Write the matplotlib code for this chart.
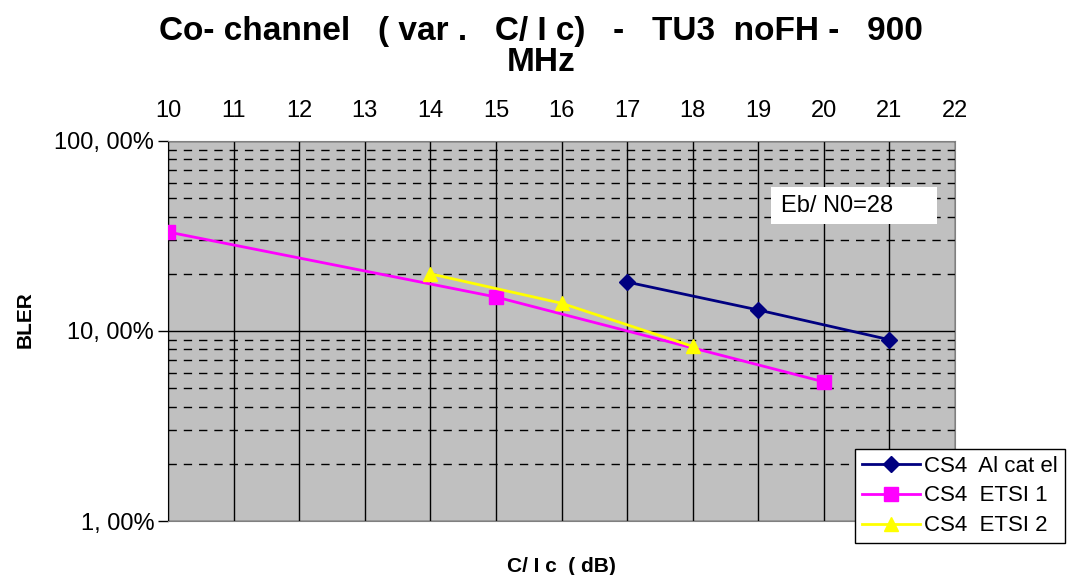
import numpy as np
import matplotlib
matplotlib.use("Agg")
import matplotlib.pyplot as plt
from matplotlib.patches import Rectangle
from matplotlib.ticker import FixedLocator, LogLocator, NullFormatter

plt.rcParams['font.family'] = ['Liberation Sans', 'DejaVu Sans']

# data (BLER in %)
alcatel_x = [17, 19, 21]
alcatel_y = [18.1, 12.9, 9.0]
etsi1_x = [10, 15, 20]
etsi1_y = [33.2, 15.1, 5.4]
etsi2_x = [14, 16, 18]
etsi2_y = [20.0, 14.0, 8.3]
x_ticks = list(range(10, 23))
y_ticks = [1, 10, 100]
y_tick_labels = ['1, 00%', '10, 00%', '100, 00%']

fig = plt.figure(figsize=(10.82, 5.75), dpi=100)
ax = fig.add_axes([0.1553, 0.0939, 0.7273, 0.6609])
ax.set_facecolor('#c0c0c0')

ax.plot(alcatel_x, alcatel_y, color='#000080', marker='D', markersize=8,
        linewidth=2, label='CS4  Al cat el', zorder=5)
ax.plot(etsi1_x, etsi1_y, color='#ff00ff', marker='s', markersize=10,
        linewidth=2, label='CS4  ETSI 1', zorder=5)
ax.plot(etsi2_x, etsi2_y, color='#ffff00', marker='^', markersize=10,
        linewidth=2, label='CS4  ETSI 2', zorder=5)

ax.set_yscale('log')
ax.set_xlim(10, 22)
ax.set_ylim(1, 100)

ax.xaxis.tick_top()
ax.set_xticks(x_ticks)
ax.tick_params(axis='x', which='both', length=0, labelsize=17, pad=14)
ax.yaxis.set_major_locator(FixedLocator(y_ticks))
ax.set_yticklabels(y_tick_labels)
ax.yaxis.set_minor_locator(LogLocator(base=10, subs=np.arange(2, 10)))
ax.yaxis.set_minor_formatter(NullFormatter())
ax.tick_params(axis='y', which='major', length=7, width=1, labelsize=17, pad=3)
ax.tick_params(axis='y', which='minor', length=0)

ax.grid(True, axis='x', which='major', color='black', linewidth=1, linestyle='-')
ax.grid(True, axis='y', which='major', color='black', linewidth=1, linestyle='-')
ax.grid(True, axis='y', which='minor', color='black', linewidth=1,
        linestyle=(0, (6, 5)))
ax.set_axisbelow(True)

for side in ['top', 'right', 'bottom']:
    ax.spines[side].set_color('#808080')
ax.spines['left'].set_color('black')

ax.set_xlabel('C/ I c  ( dB)', fontsize=15, fontweight='bold', labelpad=26)
ax.xaxis.set_label_position('bottom')
ax.set_ylabel('BLER', fontsize=15, fontweight='bold')
ax.yaxis.set_label_coords(-0.17, 0.53)

fig.text(0.5, 0.972, 'Co- channel   ( var .   C/ I c)   -   TU3  noFH -   900\nMHz',
         ha='center', va='top', fontsize=24, fontweight='bold', linespacing=1.0)

# white note box inside the plot area
fig.patches.append(Rectangle((0.7126, 0.6104), 0.1534, 0.0643,
                             transform=fig.transFigure, facecolor='white',
                             edgecolor='none', zorder=3))
fig.text(0.722, 0.6426, 'Eb/ N0=28', fontsize=17, va='center', ha='left', zorder=4)

leg = ax.legend(loc='lower left', bbox_to_anchor=(0.7905, 0.0557),
                bbox_transform=fig.transFigure, fontsize=16, frameon=True,
                fancybox=False, edgecolor='black', framealpha=1,
                borderpad=0.3, labelspacing=0.4, handlelength=2.6,
                handletextpad=0.2, borderaxespad=0)
leg.get_frame().set_linewidth(1)
leg.set_zorder(10)

fig.savefig('out.png', dpi=100)
